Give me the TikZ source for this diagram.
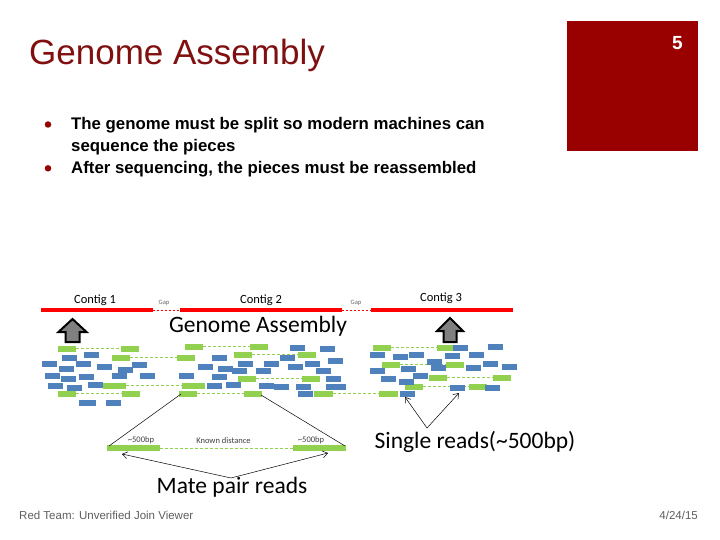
\documentclass[tikz,border=0pt]{standalone}
\usepackage{fontspec}
\setmainfont{Liberation Sans}
\newfontfamily\carl{Carlito}
\usetikzlibrary{arrows.meta}
\definecolor{titlered}{RGB}{128,16,16}
\definecolor{boxred}{RGB}{153,0,0}
\definecolor{rgreen}{RGB}{146,208,80}
\definecolor{rblue}{RGB}{79,129,189}
\definecolor{cred}{RGB}{255,0,0}
\definecolor{foot}{RGB}{95,95,95}
\definecolor{arrgray}{RGB}{128,128,128}
\newcommand\bluebar[3][15]{\fill[rblue] (#2,#3) rectangle ++(#1,5.5);}
\newcommand\greenpair[4][18]{%
  \draw[rgreen, line width=1pt, dash pattern=on 3pt off 2pt] (#2+#1,#4+2.75) -- (#3,#4+2.75);
  \fill[rgreen] (#2,#4) rectangle ++(#1,5.5);
  \fill[rgreen] (#3,#4) rectangle ++(#1,5.5);}
\tikzset{
  blockarrow/.style={draw=black, fill=arrgray, line width=2pt, line join=miter},
  thinline/.style={draw=black, line width=0.5pt},
  thinarrow/.style={thinline, -{Straight Barb[length=5pt,width=7pt]}},
  contig/.style={anchor=base, inner sep=0, font=\carl\fontsize{12.5}{14}\selectfont},
  gaptext/.style={anchor=base, inner sep=0, text=black!60, font=\carl\fontsize{6.5}{7}\selectfont},
  bigtext/.style={anchor=base, inner sep=0, font=\carl\fontsize{23.5}{26}\selectfont},
  smalltext/.style={anchor=base, inner sep=0, text=black!75, font=\carl\fontsize{8.5}{10}\selectfont},
  bullettext/.style={anchor=base west, inner sep=0, font=\bfseries\fontsize{16.8}{20}\selectfont},
  bulletdot/.style={circle, fill=boxred, minimum size=6.5pt, inner sep=0}
}
\begin{document}
\begin{tikzpicture}[x=1pt,y=-1pt]
\useasboundingbox (0,0) rectangle (720,540);
\fill[white] (0,0) rectangle (720,540);

% slide
\node[anchor=base west, inner sep=0, text=titlered, font=\fontsize{35}{40}\selectfont] (title) at (29,65) {Genome Assembly};
\fill[boxred] (567,21) rectangle (698,151);
\node[anchor=base, inner sep=0, text=white, font=\bfseries\fontsize{19}{22}\selectfont] (pg) at (677.5,50) {5};
\node[bulletdot] (d1) at (48,124.5) {};
\node[bulletdot] (d2) at (48,168.3) {};
\node[bullettext] (b1) at (71,129.3) {The genome must be split so modern machines can};
\node[bullettext] (b1b) at (71,151.3) {sequence the pieces};
\node[bullettext] (b2) at (71,173.3) {After sequencing, the pieces must be reassembled};
\node[anchor=base west, inner sep=0, text=foot, font=\fontsize{11.5}{13}\selectfont] (ft) at (19,519) {Red Team: Unverified Join Viewer};
\node[anchor=base east, inner sep=0, text=foot, font=\fontsize{11.5}{13}\selectfont] (dt) at (698,519) {4/24/15};

% contigs
\fill[cred] (40.7,307.7) rectangle (152.7,312.3);
\draw[cred, line width=0.8pt, dash pattern=on 2.5pt off 1.5pt] (152.7,310) -- (180,310);
\fill[cred] (180,307.7) rectangle (341.7,312.3);
\draw[cred, line width=0.8pt, dash pattern=on 2.5pt off 1.5pt] (341.7,310) -- (370.7,310);
\fill[cred] (370.7,307.7) rectangle (513.3,312.3);
\node[contig] (c1) at (95,303) {Contig 1};
\node[contig] (c2) at (261,303) {Contig 2};
\node[contig] (c3) at (441,301.5) {Contig 3};
\node[gaptext] (g1) at (164,304) {Gap};
\node[gaptext] (g2) at (356,304) {Gap};
\node[bigtext] (ga) at (258,332.5) {Genome Assembly};

% block arrows
\draw[blockarrow] (72.5,319) -- (86.5,332) -- (79.5,332) -- (79.5,342) -- (65.5,342) -- (65.5,332) -- (58.5,332) -- cycle;
\draw[blockarrow] (450,318) -- (463,331) -- (456.5,331) -- (456.5,342) -- (443.5,342) -- (443.5,331) -- (437,331) -- cycle;

% green mate pairs
\greenpair{58}{121}{346}
\greenpair{112}{177}{355}
\greenpair[23]{103}{182}{383}
\greenpair{58}{122}{391}
\greenpair{185}{250}{344}
\greenpair{234}{298}{352}
\greenpair{238}{302}{376}
\greenpair{179}{244}{391}
\greenpair[19]{314}{379}{391}
\greenpair{373}{437}{345}
\greenpair{382}{446}{362}
\greenpair{429}{493}{375}
\greenpair{405}{469}{384}

% blue reads, left
\bluebar{84}{352} \bluebar{62}{355} \bluebar{42}{361} \bluebar{76}{361}
\bluebar{132}{362} \bluebar{59}{366} \bluebar{97}{364} \bluebar{118}{367}
\bluebar{45}{373} \bluebar{61}{376} \bluebar{79}{374} \bluebar{112}{373}
\bluebar{140}{373} \bluebar{179}{373} \bluebar{48}{383} \bluebar{67}{385}
\bluebar{88}{382} \bluebar[17]{79}{400} \bluebar{106}{400}
% middle
\bluebar{290}{345} \bluebar{320}{346} \bluebar{212}{355} \bluebar{280}{355}
\bluebar{198}{364} \bluebar{218}{366} \bluebar{238}{361} \bluebar{264}{361}
\bluebar{305}{361} \bluebar{328}{358} \bluebar{288}{364} \bluebar{232}{368}
\bluebar{256}{368} \bluebar{316}{368} \bluebar{212}{374} \bluebar{326}{376}
\bluebar{207}{383} \bluebar{226}{382} \bluebar{259}{383} \bluebar{274}{384}
\bluebar{296}{384} \bluebar[20]{326}{384} \bluebar{298}{391}
% right
\bluebar{453}{345} \bluebar{488}{344} \bluebar{370}{352} \bluebar{393}{354}
\bluebar{409}{352} \bluebar{445}{353} \bluebar{469}{352} \bluebar{427}{359}
\bluebar{401}{366} \bluebar{431}{365} \bluebar{466}{365} \bluebar{483}{361}
\bluebar{502}{364} \bluebar{370}{368} \bluebar{413}{373} \bluebar{381}{376}
\bluebar{399}{379} \bluebar{485}{385} \bluebar{450}{385} \bluebar{400}{391}

% mate pair detail
\coordinate (pl) at (181,394);
\coordinate (pr) at (261,395);
\draw[rgreen, line width=1pt, dash pattern=on 3pt off 2pt] (160,448) -- (293,448);
\fill[rgreen] (107,445) rectangle (160,451);
\fill[rgreen] (293,445) rectangle (346,451);
\coordinate (ml) at (109,446);
\coordinate (mr) at (345,446);
\draw[thinline] (pl) -- (ml);
\draw[thinline] (pr) -- (mr);
\node[smalltext] (s1) at (141,442) {\textasciitilde500bp};
\node[smalltext] (kd) at (223.5,443) {Known distance};
\node[smalltext] (s2) at (311,442) {\textasciitilde500bp};

\node[bigtext] (mp) at (232,493) {Mate pair reads};
\coordinate (mpt) at (231,478);
\coordinate (mal) at (122,454);
\coordinate (mar) at (328,453);
\draw[thinarrow] (mpt) -- (mal);
\draw[thinarrow] (mpt) -- (mar);

\node[bigtext] (sr) at (475,448) {Single reads(\textasciitilde500bp)};
\coordinate (srt) at (427,428);
\coordinate (sal) at (405,397);
\coordinate (sar) at (459,393);
\draw[thinarrow] (srt) -- (sal);
\draw[thinarrow] (srt) -- (sar);
\end{tikzpicture}
\end{document}
